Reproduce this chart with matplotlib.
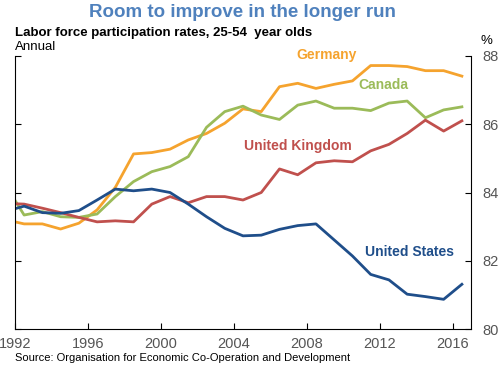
#!/usr/bin/env python3
# -*- coding: utf-8 -*-
import matplotlib
matplotlib.use("Agg")
import matplotlib.pyplot as plt

plt.rcParams['font.family'] = ['Liberation Sans', 'DejaVu Sans']

# annual values, plotted at mid-year
years = [1991.5 + i for i in range(26)]

germany = [83.2, 83.08, 83.08, 82.93, 83.1, 83.49, 84.15, 85.13, 85.17, 85.27,
           85.54, 85.73, 86.03, 86.45, 86.37, 87.1, 87.2, 87.05, 87.17, 87.27,
           87.72, 87.72, 87.69, 87.57, 87.57, 87.41]
canada = [84.2, 83.34, 83.44, 83.29, 83.27, 83.37, 83.88, 84.32, 84.61, 84.76,
          85.05, 85.91, 86.37, 86.53, 86.27, 86.14, 86.56, 86.68, 86.47, 86.47,
          86.4, 86.62, 86.68, 86.19, 86.42, 86.51]
uk = [83.68, 83.66, 83.54, 83.41, 83.27, 83.14, 83.17, 83.14, 83.66, 83.88,
      83.7, 83.88, 83.88, 83.78, 84.0, 84.69, 84.52, 84.87, 84.93, 84.9,
      85.22, 85.41, 85.73, 86.12, 85.8, 86.1]
us = [83.45, 83.6, 83.41, 83.39, 83.47, 83.78, 84.1, 84.05, 84.1, 84.0,
      83.66, 83.29, 82.95, 82.73, 82.75, 82.92, 83.03, 83.08, 82.61, 82.14,
      81.6, 81.44, 81.02, 80.95, 80.87, 81.31]

xticks = [1992, 1996, 2000, 2004, 2008, 2012, 2016]
yticks = [80, 82, 84, 86, 88]

fig = plt.figure(figsize=(5, 3.65), dpi=100)
ax = fig.add_axes([0.03, 0.0986, 0.912, 0.748])

series = [
    (germany, "#F5A32E", "Germany", 2009.1, 88.03),
    (canada, "#9BBB59", "Canada", 2012.2, 87.15),
    (uk, "#C0504D", "United Kingdom", 2007.5, 85.36),
    (us, "#1F4E8A", "United States", 2013.65, 82.27),
]
for vals, col, name, lx, ly in series:
    ax.plot(years, vals, color=col, lw=2, clip_on=True)
    ax.text(lx, ly, name, color=col, fontsize=10, fontweight="bold",
            ha="center", va="center")

ax.set_xlim(1992, 2017)
ax.set_ylim(80, 88)
ax.set_xticks(xticks)
ax.set_yticks(yticks)
ax.spines["top"].set_visible(False)
ax.tick_params(axis="x", direction="in", length=4, colors="black",
               labelcolor="#555555", labelsize=10.5, pad=6)
ax.tick_params(axis="y", direction="in", length=4, left=True, right=True,
               labelleft=False, labelright=True, labelcolor="#555555",
               labelsize=10.5, pad=8)

fig.text(0.484, 0.965, "Room to improve in the longer run", ha="center",
         va="center", fontsize=13.5, fontweight="bold", color="#4F81BD")
fig.text(0.03, 0.91, "Labor force participation rates, 25-54  year olds",
         ha="left", va="center", fontsize=9.5, fontweight="bold")
fig.text(0.03, 0.872, "Annual", ha="left", va="center", fontsize=9.5)
fig.text(0.972, 0.888, "%", ha="center", va="center", fontsize=9.5)
fig.text(0.03, 0.02, "Source: Organisation for Economic Co-Operation and Development",
         ha="left", va="center", fontsize=8)

fig.savefig("out.png", dpi=100)
